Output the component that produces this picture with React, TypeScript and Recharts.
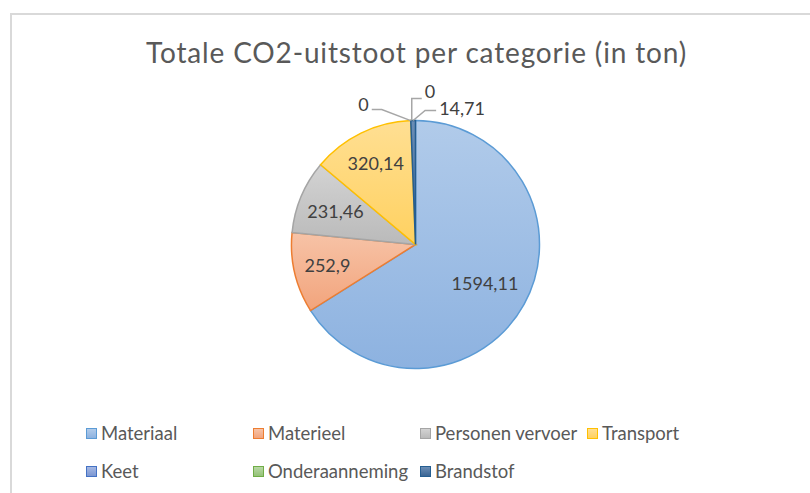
import { PieChart, Pie, Cell, Legend } from 'recharts';

const categories = [
  'Materiaal',
  'Materieel',
  'Personen vervoer',
  'Transport',
  'Keet',
  'Onderaanneming',
  'Brandstof',
];
const values = [1594.11, 252.9, 231.46, 320.14, 0, 0, 14.71];

const STROKE = ['#5b9bd5', '#ed7d31', '#a5a5a5', '#ffc000', '#4472c4', '#70ad47', '#255e91'];
const FILL_TOP = ['#b1cbea', '#f7c3a7', '#d3d3d3', '#ffdf93', '#a5b8e3', '#b8d8a5', '#6b8db5'];
const FILL_BOTTOM = ['#8db2e0', '#f2a47c', '#bababa', '#ffd160', '#7c97d2', '#94c277', '#3a6594'];

// radial position (fraction of the radius) of the in-slice labels
const LABEL_RADIUS = [0.64, 0.73, 0.7, 0.73];

const data = categories.map((name, i) => ({ name, value: values[i] }));

const FONT = 'Lato, "Open Sans", sans-serif';
const RAD = Math.PI / 180;
const fmt = (v: number): string => String(v).replace('.', ',');

function renderLabel(props: any) {
  const { cx, cy, midAngle, outerRadius, index, value } = props;
  const cos = Math.cos(-midAngle * RAD);
  const sin = Math.sin(-midAngle * RAD);
  const text = fmt(value);
  const txtStyle = { fontFamily: FONT, fontSize: 18, fill: '#404040' };

  if (index < 4) {
    const r = outerRadius * LABEL_RADIUS[index];
    return (
      <text
        x={cx + r * cos}
        y={cy + r * sin}
        textAnchor="middle"
        dominantBaseline="central"
        style={txtStyle}
      >
        {text}
      </text>
    );
  }

  const ax = cx + outerRadius * cos;
  const ay = cy + outerRadius * sin;
  const line = { stroke: '#a6a6a6', strokeWidth: 1.5, fill: 'none' };

  if (index === 4) {
    return (
      <g>
        <polyline points={`${ax},${ay} ${ax - 29},${ay - 11} ${ax - 39},${ay - 11}`} {...line} />
        <text x={ax - 42} y={ay - 17} textAnchor="end" dominantBaseline="central" style={txtStyle}>
          {text}
        </text>
      </g>
    );
  }
  if (index === 5) {
    return (
      <g>
        <polyline points={`${ax + 1},${ay} ${ax + 1},${ay - 22} ${ax + 11},${ay - 22}`} {...line} />
        <text x={ax + 14} y={ay - 30} textAnchor="start" dominantBaseline="central" style={txtStyle}>
          {text}
        </text>
      </g>
    );
  }
  return (
    <g>
      <polyline points={`${ax},${ay} ${ax + 12},${ay - 10} ${ax + 23},${ay - 10}`} {...line} />
      <text x={ax + 26} y={ay - 13} textAnchor="start" dominantBaseline="central" style={txtStyle}>
        {text}
      </text>
    </g>
  );
}

function LegendBox() {
  return (
    <div
      style={{
        display: 'flex',
        flexWrap: 'wrap',
        width: 690,
        rowGap: 14,
        fontFamily: FONT,
        fontSize: 18.5,
        color: '#595959',
      }}
    >
      {categories.map((c, i) => (
        <div key={c} style={{ width: i % 4 === 3 ? 180 : 167, display: 'flex', alignItems: 'center', height: 24 }}>
          <span
            style={{
              width: 9,
              height: 9,
              border: `1.5px solid ${STROKE[i]}`,
              background: `linear-gradient(${FILL_TOP[i]}, ${FILL_BOTTOM[i]})`,
              marginRight: 4,
              flex: 'none',
            }}
          />
          <span style={{ whiteSpace: 'nowrap' }}>{c}</span>
        </div>
      ))}
    </div>
  );
}

export default function App() {
  return (
    <div
      style={{
        position: 'fixed',
        left: 0,
        top: 0,
        width: 810,
        height: 493,
        overflow: 'hidden',
        background: '#fff',
      }}
    >
      <div
        style={{
          position: 'absolute',
          left: 10,
          top: 13,
          width: 840,
          height: 500,
          border: '2px solid #d9d9d9',
          boxSizing: 'border-box',
        }}
      >
        <div
          style={{
            position: 'absolute',
            left: 0,
            top: 20,
            width: 809,
            textAlign: 'center',
            fontFamily: FONT,
            fontSize: 28,
            letterSpacing: 0.85,
            color: '#595959',
            lineHeight: '34px',
          }}
        >
          Totale CO2-uitstoot per categorie (in ton)
        </div>
        <PieChart width={836} height={496}>
          <defs>
            {categories.map((c, i) => (
              <linearGradient key={c} id={`fill${i}`} x1="0" y1="0" x2="0" y2="1">
                <stop offset="0%" stopColor={FILL_TOP[i]} />
                <stop offset="100%" stopColor={FILL_BOTTOM[i]} />
              </linearGradient>
            ))}
          </defs>
          <Pie
            data={data}
            dataKey="value"
            nameKey="name"
            cx={398.5}
            cy={224.5}
            outerRadius={124}
            startAngle={90}
            endAngle={-270}
            label={renderLabel}
            labelLine={false}
            isAnimationActive={false}
          >
            {data.map((d, i) => (
              <Cell key={d.name} fill={`url(#fill${i})`} stroke={STROKE[i]} strokeWidth={1.5} />
            ))}
          </Pie>
          <Legend
            content={() => <LegendBox />}
            wrapperStyle={{ left: 74, top: 406, width: 700, bottom: 'auto' }}
          />
        </PieChart>
      </div>
    </div>
  );
}
